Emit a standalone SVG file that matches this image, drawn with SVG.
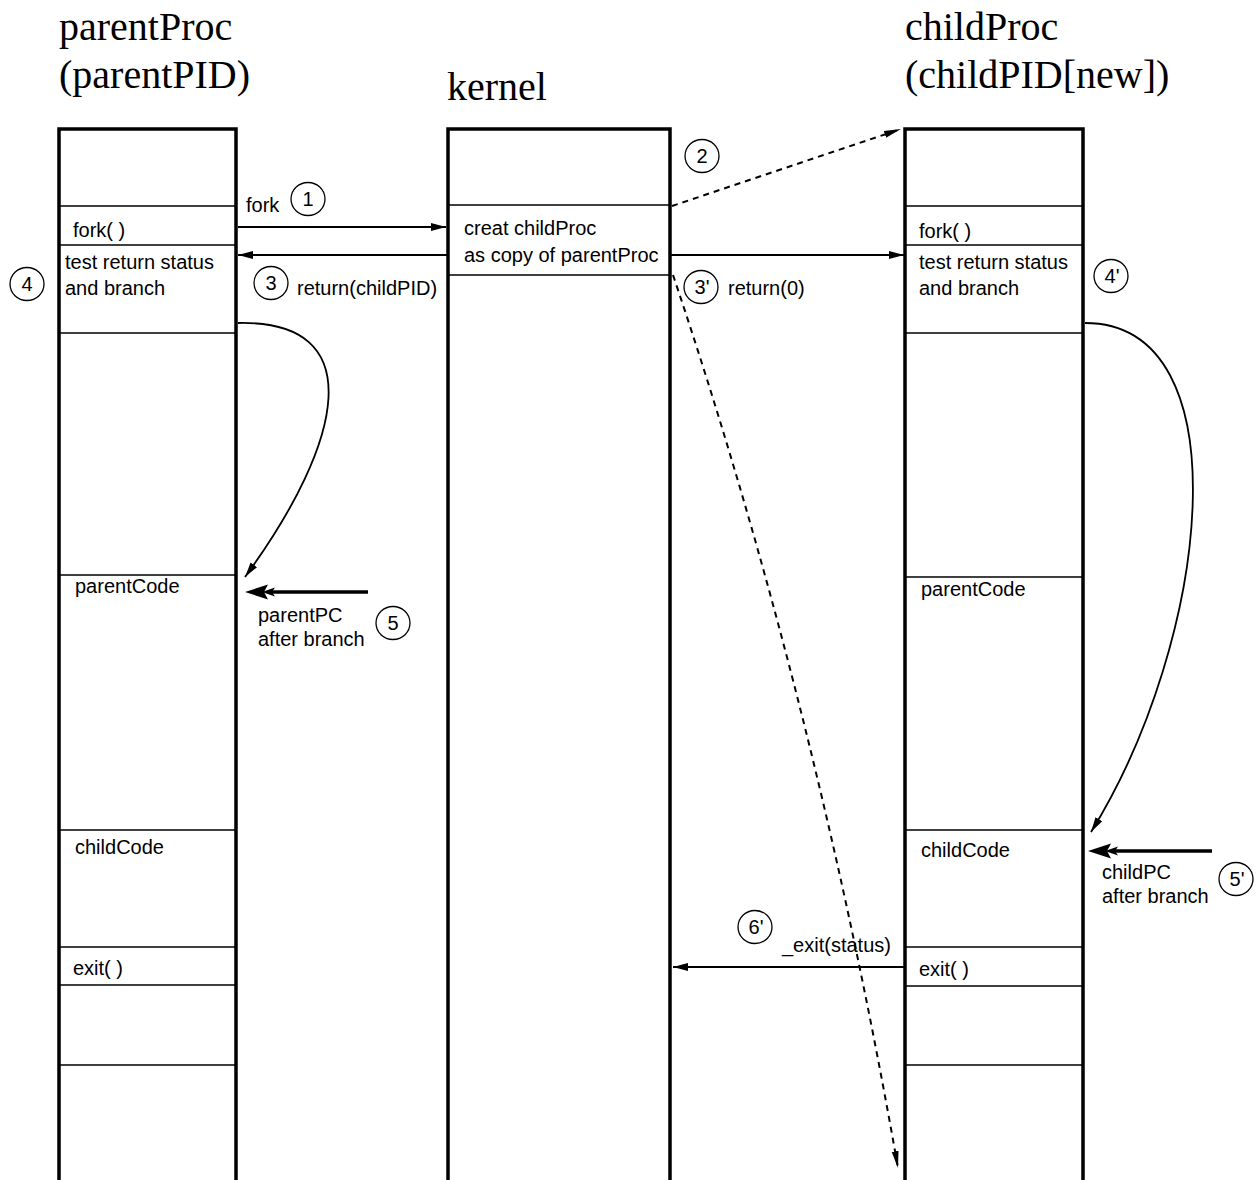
<svg xmlns="http://www.w3.org/2000/svg" width="1260" height="1180" viewBox="0 0 1260 1180">
  <style>
    .title { font-family: "Liberation Serif", "Times New Roman", serif; font-size: 40px; fill: #000; }
    .lbl { font-family: "Liberation Sans", Arial, sans-serif; font-size: 20px; fill: #000; }
    .num { font-family: "Liberation Sans", Arial, sans-serif; font-size: 20px; fill: #000; text-anchor: middle; }
    .col { fill: none; stroke: #000; stroke-width: 3.5; }
    .sep { stroke: #000; stroke-width: 1.5; }
    .ring { fill: #fff; stroke: #000; stroke-width: 1.3; }
    .arrow { fill: none; stroke: #000; stroke-width: 1.8; marker-end: url(#head); }
    .dash { fill: none; stroke: #000; stroke-width: 2; stroke-dasharray: 6 5; marker-end: url(#headDash); }
    .pc { fill: none; stroke: #000; stroke-width: 3.5; }
  </style>
  <defs>
    <marker id="head" markerUnits="userSpaceOnUse" markerWidth="16" markerHeight="10" refX="15" refY="5" orient="auto">
      <path d="M0,1 L15,5 L0,9 z" fill="#000"/>
    </marker>
    <marker id="headDash" markerUnits="userSpaceOnUse" markerWidth="18" markerHeight="10" refX="17" refY="5" orient="auto">
      <path d="M0,1.5 L17,5 L0,8.5 z" fill="#000"/>
    </marker>
  </defs>

  <rect width="1260" height="1180" fill="#fff"/>

  <!-- parent process column -->
  <g id="parentProc">
    <text class="title" x="59" y="40">parentProc</text>
    <text class="title" x="59" y="88">(parentPID)</text>
    <path class="col" d="M59,1182 V129 H236 V1182"/>
    <line class="sep" x1="59" y1="206" x2="236" y2="206"/>
    <line class="sep" x1="59" y1="245" x2="236" y2="245"/>
    <line class="sep" x1="59" y1="333" x2="236" y2="333"/>
    <line class="sep" x1="59" y1="575" x2="236" y2="575"/>
    <line class="sep" x1="59" y1="830" x2="236" y2="830"/>
    <line class="sep" x1="59" y1="947" x2="236" y2="947"/>
    <line class="sep" x1="59" y1="985" x2="236" y2="985"/>
    <line class="sep" x1="59" y1="1065" x2="236" y2="1065"/>
    <text class="lbl" x="73" y="237">fork( )</text>
    <text class="lbl" x="65" y="269">test return status</text>
    <text class="lbl" x="65" y="295">and branch</text>
    <text class="lbl" x="75" y="593">parentCode</text>
    <text class="lbl" x="75" y="854">childCode</text>
    <text class="lbl" x="73" y="975">exit( )</text>
  </g>

  <!-- kernel column -->
  <g id="kernel">
    <text class="title" x="447" y="100">kernel</text>
    <path class="col" d="M448,1182 V129 H670 V1182"/>
    <line class="sep" x1="448" y1="205" x2="670" y2="205"/>
    <line class="sep" x1="448" y1="275" x2="670" y2="275"/>
    <text class="lbl" x="464" y="235">creat childProc</text>
    <text class="lbl" x="464" y="262">as copy of parentProc</text>
  </g>

  <!-- child process column -->
  <g id="childProc">
    <text class="title" x="905" y="40">childProc</text>
    <text class="title" x="905" y="88">(childPID[new])</text>
    <path class="col" d="M905,1182 V129 H1083 V1182"/>
    <line class="sep" x1="905" y1="206" x2="1083" y2="206"/>
    <line class="sep" x1="905" y1="245" x2="1083" y2="245"/>
    <line class="sep" x1="905" y1="333" x2="1083" y2="333"/>
    <line class="sep" x1="905" y1="577" x2="1083" y2="577"/>
    <line class="sep" x1="905" y1="830" x2="1083" y2="830"/>
    <line class="sep" x1="905" y1="947" x2="1083" y2="947"/>
    <line class="sep" x1="905" y1="986" x2="1083" y2="986"/>
    <line class="sep" x1="905" y1="1065" x2="1083" y2="1065"/>
    <text class="lbl" x="919" y="238">fork( )</text>
    <text class="lbl" x="919" y="269">test return status</text>
    <text class="lbl" x="919" y="295">and branch</text>
    <text class="lbl" x="921" y="596">parentCode</text>
    <text class="lbl" x="921" y="857">childCode</text>
    <text class="lbl" x="919" y="976">exit( )</text>
  </g>

  <!-- connectors -->
  <g id="connectors">
    <line class="arrow" x1="238" y1="227" x2="446" y2="227"/>
    <line class="arrow" x1="447" y1="255" x2="238" y2="255"/>
    <line class="arrow" x1="671" y1="255" x2="904" y2="255"/>
    <line class="arrow" x1="904" y1="967" x2="673" y2="967"/>
    <path class="dash" d="M672,206 L901,129"/>
    <path class="dash" d="M673,275 Q816,700 898,1168"/>
    <path class="arrow" d="M238,323 C370,320 345,440 245,577"/>
    <path class="arrow" d="M1085,323 C1245,323 1210,640 1091,832"/>

    <!-- program counter pointers -->
    <line class="pc" x1="368" y1="592" x2="270" y2="592"/>
    <path d="M245,592 L268,584.5 L264,592 L268,599.5 z" fill="#000"/>
    <path d="M262,592 L275,587.5 L272,592 L275,596.5 z" fill="#000"/>
    <line class="pc" x1="1212" y1="851" x2="1113" y2="851"/>
    <path d="M1088,851 L1111,843.5 L1107,851 L1111,858.5 z" fill="#000"/>
    <path d="M1105,851 L1118,846.5 L1115,851 L1118,855.5 z" fill="#000"/>
  </g>

  <!-- connector labels -->
  <g id="labels">
    <text class="lbl" x="246" y="212">fork</text>
    <text class="lbl" x="297" y="295">return(childPID)</text>
    <text class="lbl" x="728" y="295">return(0)</text>
    <text class="lbl" x="258" y="622">parentPC</text>
    <text class="lbl" x="258" y="646">after branch</text>
    <text class="lbl" x="1102" y="879">childPC</text>
    <text class="lbl" x="1102" y="903">after branch</text>
    <text class="lbl" x="782" y="952">_exit(status)</text>
  </g>

  <!-- step markers -->
  <g id="steps">
    <ellipse class="ring" cx="308" cy="199" rx="17" ry="16.5"/>
    <text class="num" x="308" y="206">1</text>
    <ellipse class="ring" cx="702" cy="156" rx="17" ry="16.5"/>
    <text class="num" x="702" y="163">2</text>
    <ellipse class="ring" cx="271" cy="283" rx="17" ry="16.5"/>
    <text class="num" x="271" y="290">3</text>
    <ellipse class="ring" cx="27" cy="284" rx="17" ry="16.5"/>
    <text class="num" x="27" y="291">4</text>
    <ellipse class="ring" cx="701" cy="287" rx="17" ry="16.5"/>
    <text class="num" x="702" y="294">3'</text>
    <ellipse class="ring" cx="1111" cy="276" rx="17" ry="16.5"/>
    <text class="num" x="1112" y="283">4'</text>
    <ellipse class="ring" cx="393" cy="623" rx="17" ry="16.5"/>
    <text class="num" x="393" y="630">5</text>
    <ellipse class="ring" cx="1236" cy="879" rx="17" ry="16.5"/>
    <text class="num" x="1237" y="886">5'</text>
    <ellipse class="ring" cx="755" cy="927" rx="17" ry="16.5"/>
    <text class="num" x="756" y="934">6'</text>
  </g>
</svg>
